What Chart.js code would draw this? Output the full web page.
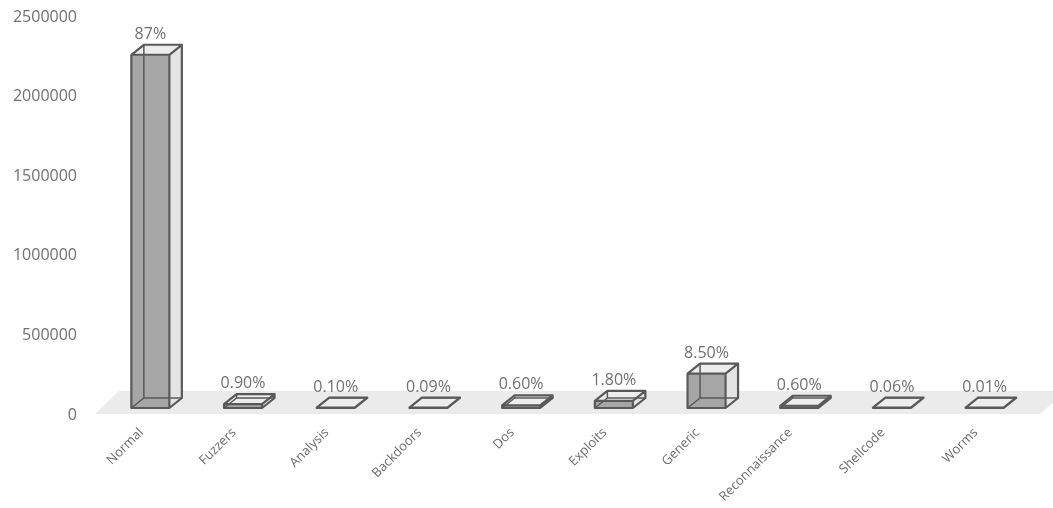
<!DOCTYPE html>
<html>
<head>
<meta charset="utf-8">
<script src="https://cdn.jsdelivr.net/npm/chart.js@4"></script>
<style>
  body { margin: 0; background: #fff; }
</style>
</head>
<body>
<canvas id="grafico" width="1053" height="508"></canvas>
<script>
const categorias = ['Normal', 'Fuzzers', 'Analysis', 'Backdoors', 'Dos', 'Exploits', 'Generic', 'Reconnaissance', 'Shellcode', 'Worms'];
const registros = [2218761, 24246, 2677, 2329, 16353, 44525, 215481, 13987, 1511, 174];
const percentuais = ['87%', '0.90%', '0.10%', '0.09%', '0.60%', '1.80%', '8.50%', '0.60%', '0.06%', '0.01%'];
const ticksY = [0, 500000, 1000000, 1500000, 2000000, 2500000];

// profundidade do efeito 3D
const prof = { dx: 12.5, dy: -10, frente: -5 };

const caixas3d = {
  id: 'caixas3d',
  beforeDatasetsDraw(chart) {
    // piso cinza
    const ctx = chart.ctx;
    const area = chart.chartArea;
    const base = chart.scales.y.getPixelForValue(0);
    ctx.save();
    ctx.fillStyle = '#ebebeb';
    ctx.beginPath();
    ctx.moveTo(area.left - 9, base + 1);
    ctx.lineTo(area.left + 15, base - 22);
    ctx.lineTo(area.right + 35, base - 22);
    ctx.lineTo(area.right + 9, base + 1);
    ctx.closePath();
    ctx.fill();
    ctx.restore();
  },
  afterDatasetsDraw(chart) {
    const ctx = chart.ctx;
    const meta = chart.getDatasetMeta(0);
    ctx.save();
    meta.data.forEach(function (barra, i) {
      const p = barra.getProps(['x', 'y', 'base', 'width'], true);
      const x0 = p.x - p.width / 2;
      const x1 = p.x + p.width / 2;
      const yb = p.base + prof.frente;
      const yt = Math.min(p.y + prof.frente, yb - 0.5);
      const dx = prof.dx, dy = prof.dy;

      // lado direito
      ctx.fillStyle = '#e4e4e4';
      ctx.beginPath();
      ctx.moveTo(x1, yb); ctx.lineTo(x1 + dx, yb + dy); ctx.lineTo(x1 + dx, yt + dy); ctx.lineTo(x1, yt);
      ctx.closePath(); ctx.fill();
      // topo
      ctx.fillStyle = '#ededed';
      ctx.beginPath();
      ctx.moveTo(x0, yt); ctx.lineTo(x0 + dx, yt + dy); ctx.lineTo(x1 + dx, yt + dy); ctx.lineTo(x1, yt);
      ctx.closePath(); ctx.fill();
      // frente
      ctx.fillStyle = '#a6a6a6';
      ctx.fillRect(x0, yt, p.width, yb - yt);

      // arestas escondidas
      ctx.strokeStyle = '#595959';
      ctx.lineWidth = 1.5;
      ctx.beginPath();
      ctx.moveTo(x0, yb); ctx.lineTo(x0 + dx, yb + dy);
      ctx.lineTo(x1 + dx, yb + dy);
      ctx.moveTo(x0 + dx, yb + dy); ctx.lineTo(x0 + dx, yt + dy);
      ctx.stroke();

      // arestas visiveis
      ctx.lineWidth = 2.2;
      ctx.lineJoin = 'round';
      ctx.beginPath();
      ctx.rect(x0, yt, p.width, yb - yt);
      ctx.moveTo(x0, yt); ctx.lineTo(x0 + dx, yt + dy); ctx.lineTo(x1 + dx, yt + dy); ctx.lineTo(x1, yt);
      ctx.moveTo(x1 + dx, yt + dy); ctx.lineTo(x1 + dx, yb + dy); ctx.lineTo(x1, yb);
      ctx.stroke();

      // rotulo percentual
      ctx.fillStyle = '#707070';
      ctx.font = '16px "Open Sans"';
      ctx.textAlign = 'center';
      ctx.textBaseline = 'alphabetic';
      ctx.fillText(percentuais[i], p.x, yt + dy - 6);
    });
    ctx.restore();
  }
};

const dados = {
  labels: categorias,
  datasets: [{
    data: registros,
    backgroundColor: 'rgba(0,0,0,0)',
    borderWidth: 0,
    barPercentage: 0.41,
    categoryPercentage: 1
  }]
};

const config = {
  type: 'bar',
  data: dados,
  options: {
    responsive: false,
    animation: false,
    devicePixelRatio: 1,
    layout: { padding: 0 },
    plugins: {
      legend: { display: false },
      tooltip: { enabled: false }
    },
    scales: {
      x: {
        offset: true,
        grid: { display: false, drawTicks: false },
        border: { display: false },
        ticks: {
          color: '#6b6b6b',
          font: { family: 'Open Sans', size: 13 },
          maxRotation: 45,
          minRotation: 45,
          padding: 12,
          labelOffset: -9
        },
        afterFit: function (s) {
          s.height = 95;
          s.paddingLeft = 0;
          s.paddingRight = 22;
        }
      },
      y: {
        min: 0,
        max: 2500000,
        grid: { display: false, drawTicks: false },
        border: { display: false },
        afterBuildTicks: function (s) { s.ticks = ticksY.map(v => ({ value: v })); },
        ticks: {
          color: '#707070',
          font: { family: 'Open Sans', size: 16 },
          padding: 27,
          labelOffset: 2,
          callback: v => String(v)
        },
        afterFit: function (s) {
          s.width = 104;
          s.paddingTop = 15;
          s.paddingBottom = 0;
        }
      }
    }
  },
  plugins: [caixas3d]
};

let grafico = new Chart(document.getElementById('grafico'), config);
</script>
</body>
</html>
